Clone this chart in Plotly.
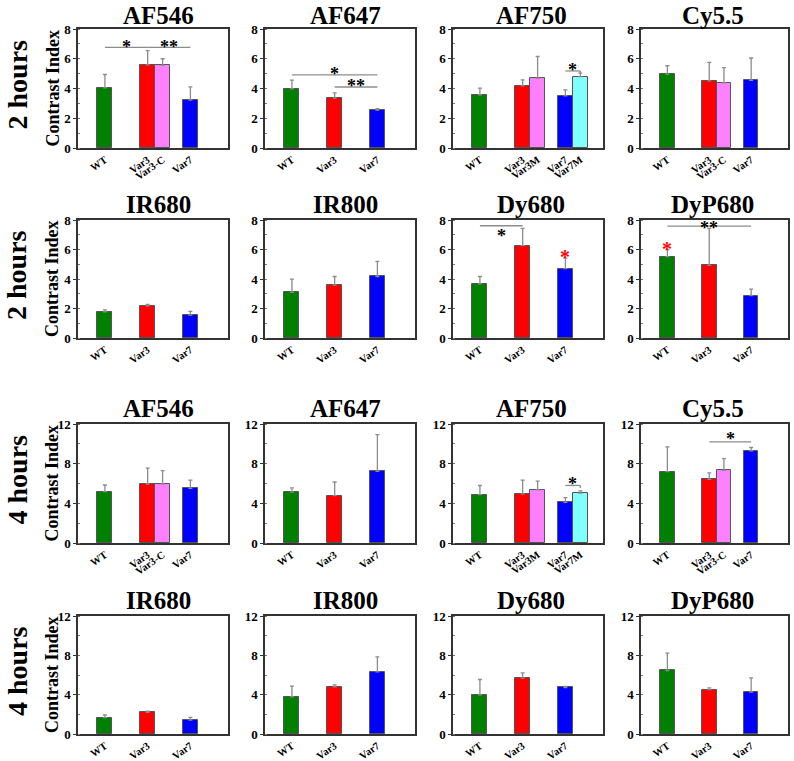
import plotly.graph_objects as go

# ---------------- data ----------------
cats3 = ["WT", "Var3", "Var7"]
cats4c = ["WT", "Var3", "Var3-C", "Var7"]
cats5m = ["WT", "Var3", "Var3M", "Var7", "Var7M"]

row_labels = ["2 hours", "2 hours", "4 hours", "4 hours"]
titles = ["AF546", "AF647", "AF750", "Cy5.5",
          "IR680", "IR800", "Dy680", "DyP680",
          "AF546", "AF647", "AF750", "Cy5.5",
          "IR680", "IR800", "Dy680", "DyP680"]

h2_af546_mean = [4.04, 5.59, 5.56, 3.22]
h2_af546_err = [0.90, 0.96, 0.44, 0.89]
h2_af647_mean = [3.98, 3.35, 2.55]
h2_af647_err = [0.58, 0.36, 0.09]
h2_af750_mean = [3.58, 4.18, 4.69, 3.51, 4.80]
h2_af750_err = [0.44, 0.40, 1.46, 0.40, 0.23]
h2_cy55_mean = [4.97, 4.51, 4.38, 4.54]
h2_cy55_err = [0.56, 1.25, 1.02, 1.51]

h2_ir680_mean = [1.78, 2.18, 1.55]
h2_ir680_err = [0.13, 0.09, 0.25]
h2_ir800_mean = [3.09, 3.58, 4.17]
h2_ir800_err = [0.90, 0.59, 1.03]
h2_dy680_mean = [3.67, 6.26, 4.71]
h2_dy680_err = [0.50, 1.17, 0.70]
h2_dyp680_mean = [5.52, 4.93, 2.88]
h2_dyp680_err = [0.45, 2.50, 0.43]

h4_af546_mean = [5.18, 5.95, 5.95, 5.51]
h4_af546_err = [0.67, 1.61, 1.34, 0.84]
h4_af647_mean = [5.14, 4.77, 7.23]
h4_af647_err = [0.41, 1.38, 3.69]
h4_af750_mean = [4.88, 4.95, 5.36, 4.10, 5.02]
h4_af750_err = [0.92, 1.39, 0.88, 0.48, 0.23]
h4_cy55_mean = [7.19, 6.41, 7.32, 9.29]
h4_cy55_err = [2.50, 0.67, 1.18, 0.34]

h4_ir680_mean = [1.66, 2.20, 1.42]
h4_ir680_err = [0.27, 0.13, 0.27]
h4_ir800_mean = [3.78, 4.80, 6.32]
h4_ir800_err = [1.08, 0.20, 1.52]
h4_dy680_mean = [3.98, 5.68, 4.73]
h4_dy680_err = [1.56, 0.54, 0.10]
h4_dyp680_mean = [6.46, 4.52, 4.25]
h4_dyp680_err = [1.77, 0.17, 1.46]

y_max_rows = [8, 8, 12, 12]
y_dtick_rows = [2, 2, 4, 4]

# significance lines: (panel, from category, to category, y, end tick)
sig_lines = [
    (0, "WT", "Var3", 6.77, False),
    (0, "Var3", "Var7", 6.77, False),
    (1, "WT", "Var7", 4.91, False),
    (1, "Var3", "Var7", 4.10, False),
    (2, "Var7", "Var7M", 5.18, True),
    (6, "WT", "Var3", 7.61, False),
    (7, "WT", "Var7", 7.59, False),
    (10, "Var7", "Var7M", 5.80, True),
    (11, "Var3", "Var7", 10.20, False),
]
# stars: (panel, category a, category b, y of star centre, text, colour)
sig_stars = [
    (0, "WT", "Var3", 7.06, "*", "black"),
    (0, "Var3", "Var7", 7.06, "**", "black"),
    (1, "WT", "Var7", 5.26, "*", "black"),
    (1, "Var3", "Var7", 4.41, "**", "black"),
    (2, "Var7", "Var7M", 5.48, "*", "black"),
    (6, "WT", "Var3", 7.16, "*", "black"),
    (6, "Var7", "Var7", 5.74, "*", "red"),
    (7, "WT", "Var7", 7.72, "**", "black"),
    (7, "WT", "WT", 6.30, "*", "red"),
    (10, "Var7", "Var7M", 6.40, "*", "black"),
    (11, "Var3", "Var7", 10.88, "*", "black"),
]

panel_cats = [cats4c, cats3, cats5m, cats4c,
              cats3, cats3, cats3, cats3,
              cats4c, cats3, cats5m, cats4c,
              cats3, cats3, cats3, cats3]
panel_means = [h2_af546_mean, h2_af647_mean, h2_af750_mean, h2_cy55_mean,
               h2_ir680_mean, h2_ir800_mean, h2_dy680_mean, h2_dyp680_mean,
               h4_af546_mean, h4_af647_mean, h4_af750_mean, h4_cy55_mean,
               h4_ir680_mean, h4_ir800_mean, h4_dy680_mean, h4_dyp680_mean]
panel_errs = [h2_af546_err, h2_af647_err, h2_af750_err, h2_cy55_err,
              h2_ir680_err, h2_ir800_err, h2_dy680_err, h2_dyp680_err,
              h4_af546_err, h4_af647_err, h4_af750_err, h4_cy55_err,
              h4_ir680_err, h4_ir800_err, h4_dy680_err, h4_dyp680_err]

# ---------------- style / layout ----------------
W, H = 794, 761
SERIF = "Liberation Serif, Times New Roman, serif"
COLORS = {"WT": "#008000", "Var3": "#ff0000", "Var3-C": "#ff80ff",
          "Var3M": "#ff80ff", "Var7": "#0000ff", "Var7M": "#80ffff"}
XPOS = {"WT": 0.0, "Var3": 1.0, "Var3-C": 1.35, "Var3M": 1.35,
        "Var7": 2.0, "Var7M": 2.35}
BAR_W = 0.35
X_RANGE = [-0.63, 2.88]
COL_PX = [(78, 228), (265, 415), (453, 603), (641, 788)]
ROW_PX = [(29, 148), (220, 338), (424, 543), (616, 734)]
TITLE_DX = [5, 5, 3, -2]


def fx(px):
    return px / W


def fy(py):
    return 1 - py / H


fig = go.Figure()
annotations = []
shapes = []

for i in range(16):
    r, c = divmod(i, 4)
    n = i + 1
    xa = "x" if n == 1 else f"x{n}"
    ya = "y" if n == 1 else f"y{n}"
    cats = panel_cats[i]
    fig.add_trace(go.Bar(
        x=[XPOS[k] for k in cats], y=panel_means[i], width=BAR_W,
        marker=dict(color=[COLORS[k] for k in cats],
                    line=dict(color="#555555", width=1)),
        error_y=dict(type="data", symmetric=False, array=panel_errs[i],
                     arrayminus=[0] * len(cats), color="#8c8c8c",
                     thickness=1.3, width=2),
        xaxis=xa, yaxis=ya, showlegend=False))
    x0, x1 = COL_PX[c]
    y0, y1 = ROW_PX[r]
    axkey = "xaxis" if n == 1 else f"xaxis{n}"
    aykey = "yaxis" if n == 1 else f"yaxis{n}"
    fig.layout[axkey] = dict(
        domain=[fx(x0), fx(x1)], range=X_RANGE, anchor=ya, automargin=False,
        tickvals=[XPOS[k] for k in cats], ticktext=cats, tickangle=-35,
        tickfont=dict(family=SERIF, size=10.5, color="black", weight="bold"),
        showline=True, mirror=True, linecolor="#333333", linewidth=1.5,
        ticks="", showgrid=False, zeroline=False, fixedrange=True)
    fig.layout[aykey] = dict(
        domain=[fy(y1), fy(y0)], range=[0, y_max_rows[r]], anchor=xa,
        automargin=False, dtick=y_dtick_rows[r], tick0=0,
        tickfont=dict(family=SERIF, size=13, color="black", weight="bold"),
        showline=True, mirror=True, linecolor="#333333", linewidth=1.5,
        ticks="outside", ticklen=3, tickcolor="#333333",
        minor=dict(ticks="inside", ticklen=2, tickcolor="#777777",
                   dtick=y_dtick_rows[r] / 2, showgrid=False),
        showgrid=False, zeroline=False, fixedrange=True)
    annotations.append(dict(
        text=titles[i], x=fx((x0 + x1) / 2 + TITLE_DX[c]),
        y=fy(max(y0 - 16, 16)),
        xref="paper", yref="paper", xanchor="center", yanchor="middle",
        showarrow=False,
        font=dict(family=SERIF, size=25, color="black", weight="bold")))
    if c == 0:
        annotations.append(dict(
            text="Contrast Index", x=fx(52), y=fy((y0 + y1) / 2),
            xref="paper", yref="paper", xanchor="center", yanchor="middle",
            textangle=-90, showarrow=False,
            font=dict(family=SERIF, size=18, color="black", weight="bold")))
        annotations.append(dict(
            text=row_labels[r], x=fx(17), y=fy((y0 + y1) / 2 - 4),
            xref="paper", yref="paper", xanchor="center", yanchor="middle",
            textangle=-90, showarrow=False,
            font=dict(family=SERIF, size=28, color="black", weight="bold")))

for (p, a, b, yv, tick) in sig_lines:
    n = p + 1
    xr = "x" if n == 1 else f"x{n}"
    yr = "y" if n == 1 else f"y{n}"
    shapes.append(dict(type="line", xref=xr, yref=yr, x0=XPOS[a], x1=XPOS[b],
                       y0=yv, y1=yv, line=dict(color="#8c8c8c", width=1.3)))
    if tick:
        shapes.append(dict(type="line", xref=xr, yref=yr, x0=XPOS[b], x1=XPOS[b],
                           y0=yv, y1=yv - 0.17 * y_max_rows[p // 4] / 8,
                           line=dict(color="#8c8c8c", width=1.3)))

for (p, a, b, yv, txt, col) in sig_stars:
    n = p + 1
    xr = "x" if n == 1 else f"x{n}"
    yr = "y" if n == 1 else f"y{n}"
    annotations.append(dict(
        text=txt, x=(XPOS[a] + XPOS[b]) / 2, y=yv, xref=xr, yref=yr,
        xanchor="center", yanchor="middle", yshift=-4, showarrow=False,
        font=dict(family=SERIF, size=20 if col == "red" else 18, color=col,
                  weight="bold")))

fig.update_layout(
    width=W, height=H, margin=dict(l=0, r=0, t=0, b=0, autoexpand=False),
    paper_bgcolor="white", plot_bgcolor="white",
    annotations=annotations, shapes=shapes, bargap=0)

fig.write_html("out.html", config={"displayModeBar": False},
               post_script="document.body.style.margin='0';")
